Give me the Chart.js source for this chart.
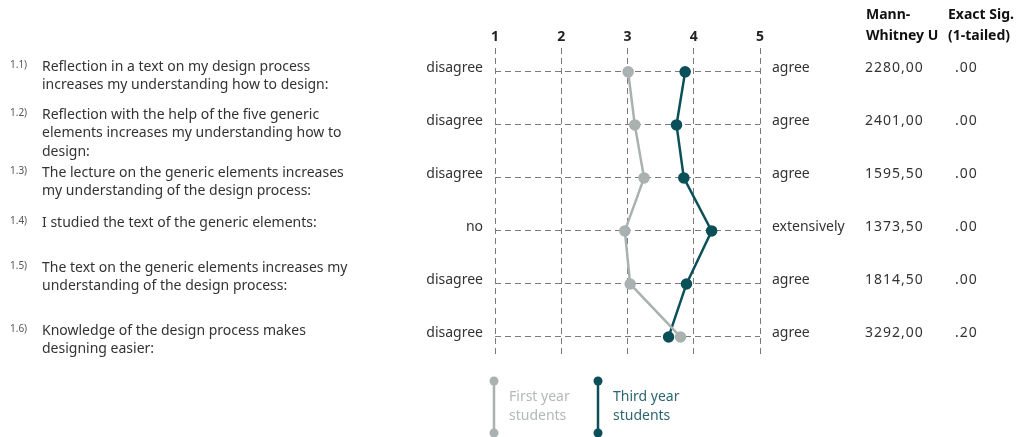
<!DOCTYPE html>
<html>
<head>
<meta charset="utf-8">
<script src="https://cdn.jsdelivr.net/npm/chart.js@4.4.1/dist/chart.umd.min.js"></script>
<style>
  html, body { margin: 0; padding: 0; background: #fff; }
  #wrap { position: relative; width: 1020px; height: 437px; }
</style>
</head>
<body>
<div id="wrap"><canvas id="chart"></canvas></div>
<script>
// Survey answers, mean score per item (1..5)
const rowIds = ['1.1)', '1.2)', '1.3)', '1.4)', '1.5)', '1.6)'];
const questions = [
  ['Reflection in a text on my design process', 'increases my understanding how to design:'],
  ['Reflection with the help of the five generic', 'elements increases my understanding how to', 'design:'],
  ['The lecture on the generic elements increases', 'my understanding of the design process:'],
  ['I studied the text of the generic elements:'],
  ['The text on the generic elements increases my', 'understanding of the design process:'],
  ['Knowledge of the design process makes', 'designing easier:']
];
const lowLabels = ['disagree', 'disagree', 'disagree', 'no', 'disagree', 'disagree'];
const highLabels = ['agree', 'agree', 'agree', 'extensively', 'agree', 'agree'];
const scaleTicks = [1, 2, 3, 4, 5];
const firstYear = [3.01, 3.11, 3.25, 2.96, 3.04, 3.80];
const thirdYear = [3.87, 3.74, 3.85, 4.27, 3.89, 3.62];
const mannWhitneyU = ['2280,00', '2401,00', '1595,50', '1373,50', '1814,50', '3292,00'];
const exactSig = ['.00', '.00', '.00', '.00', '.00', '.20'];
const tableHeads = [['Mann-', 'Whitney U'], ['Exact Sig.', '(1-tailed)']];
const seriesNames = [['First year', 'students'], ['Third year', 'students']];

const GREY = '#aab1b1';
const TEAL = '#0b4f59';
const FONT = '"Noto Sans", "Open Sans", sans-serif';

// small per-row nudges so the question blocks sit like the print layout
const textShift = [-5, -10, -5, -8, -16, -6];

const rowTicks = scale => { scale.ticks = rowIds.map((_, i) => ({ value: i })); };

const annotate = {
  id: 'annotate',
  afterDraw(chart){
    const ctx = chart.ctx;
    const y = chart.scales.y;
    const area = chart.chartArea;
    ctx.save();
    ctx.textBaseline = 'middle';

    // questions on the left
    rowIds.forEach((id, i) => {
      const top = y.getPixelForValue(i) + textShift[i];
      ctx.fillStyle = '#555';
      ctx.font = `10px ${FONT}`;
      ctx.textAlign = 'left';
      ctx.fillText(id, 10, top - 2);
      ctx.fillStyle = '#333';
      ctx.font = `14px ${FONT}`;
      questions[i].forEach((line, k) => ctx.fillText(line, 42, top + k * 18.5));
    });

    // statistics table
    ctx.fillStyle = '#111';
    ctx.font = `bold 14px ${FONT}`;
    tableHeads[0].forEach((t, k) => ctx.fillText(t, 866, 15 + k * 21));
    tableHeads[1].forEach((t, k) => ctx.fillText(t, 948, 15 + k * 21));
    ctx.fillStyle = '#333';
    ctx.font = `14px ${FONT}`;
    ctx.letterSpacing = '1px';
    rowIds.forEach((_, i) => {
      const py = y.getPixelForValue(i) - 4;
      ctx.fillText(mannWhitneyU[i], 865, py);
      ctx.fillText(exactSig[i], 955, py);
    });
    ctx.letterSpacing = '0px';

    // legend: vertical line with dots at both ends
    const datasets = chart.data.datasets;
    datasets.forEach((ds, k) => {
      const lx = area.left - 1 + k * 104;
      const y0 = 381, y1 = 433;
      ctx.strokeStyle = ds.borderColor;
      ctx.lineWidth = 2.5;
      ctx.beginPath(); ctx.moveTo(lx, y0); ctx.lineTo(lx, y1); ctx.stroke();
      ctx.fillStyle = ds.borderColor;
      [y0, y1].forEach(py => { ctx.beginPath(); ctx.arc(lx, py, 4.5, 0, Math.PI * 2); ctx.fill(); });
      ctx.fillStyle = k === 0 ? '#b3b8b8' : '#2c6770';
      ctx.font = `14px ${FONT}`;
      ctx.textAlign = 'left';
      seriesNames[k].forEach((t, j) => ctx.fillText(t, lx + 15, 397 + j * 19));
    });
    ctx.restore();
  }
};

const toPoints = arr => arr.map((v, i) => ({ x: v, y: i }));

new Chart(document.getElementById('chart'), {
  type: 'scatter',
  data: {
    datasets: [
      { label: seriesNames[0].join(' '), data: toPoints(firstYear), showLine: true,
        borderColor: GREY, backgroundColor: GREY, borderWidth: 2.5, pointRadius: 4.5, pointHoverRadius: 4.5 },
      { label: seriesNames[1].join(' '), data: toPoints(thirdYear), showLine: true,
        borderColor: TEAL, backgroundColor: TEAL, borderWidth: 2.5, pointRadius: 4.5, pointHoverRadius: 4.5 }
    ]
  },
  options: {
    animation: false,
    responsive: true,
    maintainAspectRatio: false,
    layout: { padding: { left: 0, right: 0, top: 0, bottom: 82 } },
    plugins: { legend: { display: false }, tooltip: { enabled: false } },
    scales: {
      x: {
        type: 'linear', position: 'top', min: 1, max: 5,
        afterBuildTicks: s => { s.ticks = scaleTicks.map(v => ({ value: v })); },
        afterFit: s => { s.height = 48; },
        ticks: { color: '#222', padding: 3, font: { family: FONT, size: 14, weight: 'bold' } },
        grid: { color: '#7a7a7a', lineWidth: 1, drawTicks: false },
        border: { display: false, dash: [6, 4] }
      },
      y: {
        type: 'linear', position: 'left', reverse: true, min: -0.45, max: 5.34,
        afterBuildTicks: rowTicks,
        afterFit: s => { s.width = 495; },
        ticks: { color: '#333', padding: 12, crossAlign: 'near', labelOffset: -4,
          font: { family: FONT, size: 14 }, callback: v => lowLabels[v] },
        grid: { color: '#7a7a7a', lineWidth: 1, drawTicks: false },
        border: { display: false, dash: [6, 4] }
      },
      y2: {
        type: 'linear', position: 'right', reverse: true, min: -0.45, max: 5.34,
        afterBuildTicks: rowTicks,
        afterFit: s => { s.width = 260; },
        ticks: { color: '#333', padding: 4, crossAlign: 'near', labelOffset: -4,
          font: { family: FONT, size: 14 }, callback: v => highLabels[v] },
        grid: { display: false },
        border: { display: false }
      }
    }
  },
  plugins: [annotate]
});
</script>
</body>
</html>
